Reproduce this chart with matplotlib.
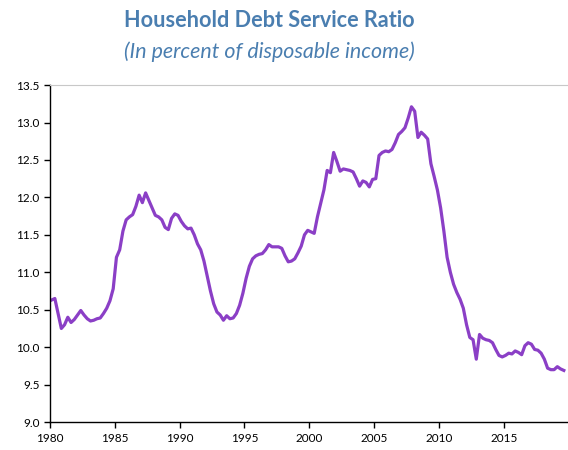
import numpy as np
import pandas as pd
import matplotlib
matplotlib.use("Agg")
import matplotlib.pyplot as plt
from matplotlib.ticker import MultipleLocator, FormatStrFormatter

# Quarterly household debt service ratio, 1980Q1 - 2019Q3
start_year = 1980
dsr = [
    10.63, 10.65, 10.45, 10.25,  # 1980
    10.30, 10.40, 10.33, 10.37,  # 1981
    10.43, 10.49, 10.43, 10.38,  # 1982
    10.35, 10.36, 10.38, 10.39,  # 1983
    10.45, 10.52, 10.62, 10.78,  # 1984
    11.20, 11.30, 11.55, 11.70,  # 1985
    11.74, 11.77, 11.88, 12.03,  # 1986
    11.93, 12.06, 11.96, 11.86,  # 1987
    11.76, 11.74, 11.70, 11.60,  # 1988
    11.57, 11.72, 11.78, 11.76,  # 1989
    11.68, 11.62, 11.58, 11.59,  # 1990
    11.50, 11.38, 11.30, 11.15,  # 1991
    10.95, 10.75, 10.58, 10.47,  # 1992
    10.43, 10.36, 10.42, 10.38,  # 1993
    10.39, 10.45, 10.56, 10.72,  # 1994
    10.92, 11.08, 11.18, 11.22,  # 1995
    11.24, 11.25, 11.30, 11.37,  # 1996
    11.34, 11.34, 11.34, 11.32,  # 1997
    11.22, 11.14, 11.15, 11.18,  # 1998
    11.26, 11.35, 11.50, 11.56,  # 1999
    11.54, 11.52, 11.74, 11.92,  # 2000
    12.10, 12.36, 12.33, 12.60,  # 2001
    12.48, 12.35, 12.38, 12.37,  # 2002
    12.36, 12.34, 12.25, 12.15,  # 2003
    12.22, 12.20, 12.14, 12.24,  # 2004
    12.25, 12.56, 12.60, 12.62,  # 2005
    12.61, 12.64, 12.73, 12.84,  # 2006
    12.88, 12.93, 13.06, 13.21,  # 2007
    13.15, 12.80, 12.87, 12.83,  # 2008
    12.78, 12.45, 12.28, 12.10,  # 2009
    11.86, 11.55, 11.20, 11.00,  # 2010
    10.84, 10.73, 10.64, 10.52,  # 2011
    10.30, 10.13, 10.10, 9.84,   # 2012
    10.17, 10.12, 10.10, 10.09,  # 2013
    10.06, 9.97, 9.89, 9.87,     # 2014
    9.89, 9.92, 9.91, 9.95,      # 2015
    9.93, 9.90, 10.02, 10.06,    # 2016
    10.04, 9.97, 9.96, 9.92,     # 2017
    9.84, 9.72, 9.70, 9.70,      # 2018
    9.74, 9.71, 9.69,            # 2019
]
x_ticks = [1980, 1985, 1990, 1995, 2000, 2005, 2010, 2015]

# place each quarter at its midpoint
quarters = pd.period_range(f"{start_year}Q1", periods=len(dsr), freq="Q")
t = np.array([p.year + (p.quarter - 0.5) / 4 for p in quarters])

plt.rcParams["font.family"] = ["Lato", "DejaVu Sans"]

fig = plt.figure(figsize=(5.68, 4.5), dpi=100)
ax = fig.add_axes([0.088, 0.062, 0.91, 0.749])

ax.plot(t, dsr, color="#8B3FC6", linewidth=2.3, solid_joinstyle="round")

ax.set_xlim(1980, 2019.86)
ax.set_ylim(9.0, 13.5)
ax.set_xticks(x_ticks)
ax.yaxis.set_major_locator(MultipleLocator(0.5))
ax.yaxis.set_major_formatter(FormatStrFormatter("%.1f"))
ax.tick_params(direction="out", length=4, width=1, labelsize=8.5, colors="black")

ax.spines["right"].set_visible(False)
ax.spines["top"].set_color("#C8C8C8")
ax.spines["left"].set_linewidth(1)
ax.spines["bottom"].set_linewidth(1)

fig.text(0.474, 0.955, "Household Debt Service Ratio", ha="center", va="center",
         fontsize=15.6, fontweight="bold", color="#4A7EB0")
fig.text(0.474, 0.884, "(In percent of disposable income)", ha="center", va="center",
         fontsize=15.4, fontstyle="italic", color="#4A7EB0")

fig.savefig("out.png", dpi=100)
